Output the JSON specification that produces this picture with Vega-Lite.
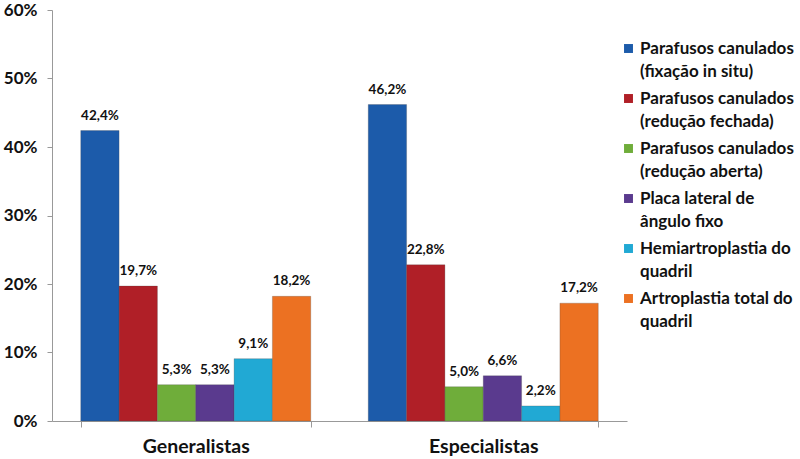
{
  "$schema": "https://vega.github.io/schema/vega-lite/v6.json",
  "width": 575,
  "height": 411,
  "autosize": "none",
  "padding": {"left": 52, "top": 10, "right": 173, "bottom": 38},
  "background": "white",
  "config": {
    "view": {"stroke": null},
    "font": "Lato",
    "style": {"guide-label": {"lineHeight": 23, "dy": -8}},
    "locale": {"number": {"decimal": ",", "thousands": ".", "grouping": [3], "currency": ["R$", ""]}}
  },
  "data": {
    "values": [
      {"grupo": "Generalistas", "tecnica": "Parafusos canulados (fixação in situ)", "valor": 0.424},
      {"grupo": "Generalistas", "tecnica": "Parafusos canulados (redução fechada)", "valor": 0.197},
      {"grupo": "Generalistas", "tecnica": "Parafusos canulados (redução aberta)", "valor": 0.053},
      {"grupo": "Generalistas", "tecnica": "Placa lateral de ângulo fixo", "valor": 0.053},
      {"grupo": "Generalistas", "tecnica": "Hemiartroplastia do quadril", "valor": 0.091},
      {"grupo": "Generalistas", "tecnica": "Artroplastia total do quadril", "valor": 0.182},
      {"grupo": "Especialistas", "tecnica": "Parafusos canulados (fixação in situ)", "valor": 0.462},
      {"grupo": "Especialistas", "tecnica": "Parafusos canulados (redução fechada)", "valor": 0.228},
      {"grupo": "Especialistas", "tecnica": "Parafusos canulados (redução aberta)", "valor": 0.050},
      {"grupo": "Especialistas", "tecnica": "Placa lateral de ângulo fixo", "valor": 0.066},
      {"grupo": "Especialistas", "tecnica": "Hemiartroplastia do quadril", "valor": 0.022},
      {"grupo": "Especialistas", "tecnica": "Artroplastia total do quadril", "valor": 0.172}
    ]
  },
  "encoding": {
    "x": {
      "field": "grupo", "type": "nominal", "sort": ["Generalistas", "Especialistas"],
      "scale": {"paddingInner": 0.2, "paddingOuter": 0.1},
      "axis": {"title": null, "labelAngle": 0, "labelFontSize": 19.5, "labelFontWeight": "bold", "labelColor": "#111",
               "labelPadding": 18, "domainColor": "#999", "tickColor": "#999", "tickBand": "extent", "tickSize": 6}
    },
    "xOffset": {
      "field": "tecnica", "type": "nominal",
      "sort": ["Parafusos canulados (fixação in situ)", "Parafusos canulados (redução fechada)", "Parafusos canulados (redução aberta)", "Placa lateral de ângulo fixo", "Hemiartroplastia do quadril", "Artroplastia total do quadril"],
      "scale": {"paddingInner": 0, "paddingOuter": 0}
    },
    "y": {
      "field": "valor", "type": "quantitative",
      "scale": {"domain": [0, 0.6]},
      "axis": {"title": null, "format": ".0%", "values": [0, 0.1, 0.2, 0.3, 0.4, 0.5, 0.6], "grid": false,
               "labelFontSize": 17, "labelFontWeight": "bold", "labelColor": "#111", "labelPadding": 10, "labelOffset": 8,
               "domainColor": "#999", "tickColor": "#999", "tickSize": 5}
    }
  },
  "layer": [
    {
      "mark": {"type": "bar", "stroke": "#444", "strokeWidth": 0.5, "strokeOpacity": 0.5},
      "encoding": {
        "color": {
          "field": "tecnica", "type": "nominal",
          "sort": ["Parafusos canulados (fixação in situ)", "Parafusos canulados (redução fechada)", "Parafusos canulados (redução aberta)", "Placa lateral de ângulo fixo", "Hemiartroplastia do quadril", "Artroplastia total do quadril"],
          "scale": {"range": ["#1C5BAA", "#B01F27", "#6FAD3A", "#5A3A8E", "#21A9D4", "#EC7122"]},
          "legend": {
            "title": null, "orient": "none", "legendX": 568, "legendY": 30,
            "symbolType": "square", "symbolSize": 80, "symbolStrokeWidth": 0,
            "labelFontSize": 17, "labelFontWeight": "bold", "labelColor": "#111", "labelLimit": 300,
            "labelBaseline": "top", "labelOffset": 3, "rowPadding": 9,
            "labelExpr": "datum.value == 'Parafusos canulados (fixação in situ)' ? ['Parafusos canulados', '(fixação in situ)'] : datum.value == 'Parafusos canulados (redução fechada)' ? ['Parafusos canulados', '(redução fechada)'] : datum.value == 'Parafusos canulados (redução aberta)' ? ['Parafusos canulados', '(redução aberta)'] : datum.value == 'Placa lateral de ângulo fixo' ? ['Placa lateral de', 'ângulo fixo'] : datum.value == 'Hemiartroplastia do quadril' ? ['Hemiartroplastia do', 'quadril'] : ['Artroplastia total do', 'quadril']"
          }
        }
      }
    },
    {
      "mark": {"type": "text", "baseline": "bottom", "dy": -8, "fontSize": 13.5, "fontWeight": "bold", "color": "#111"},
      "encoding": {
        "text": {"field": "valor", "type": "quantitative", "format": ".1%"}
      }
    }
  ]
}
